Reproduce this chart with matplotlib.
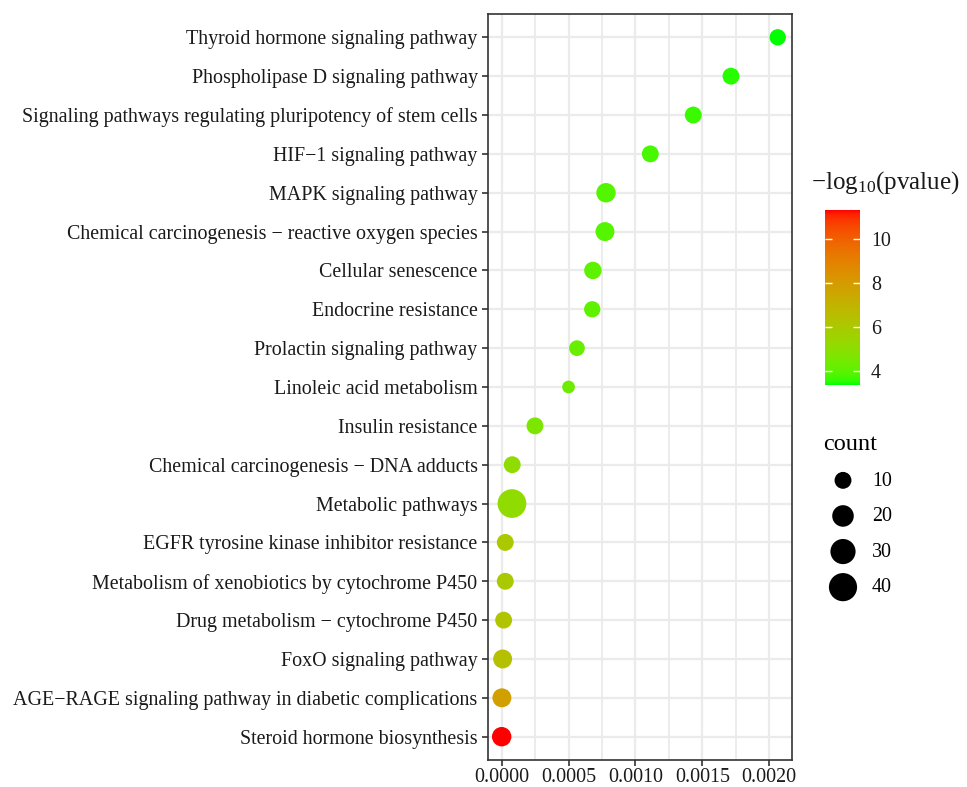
import numpy as np
import matplotlib
matplotlib.use("Agg")
import matplotlib.pyplot as plt
from matplotlib.colors import LinearSegmentedColormap, Normalize
from matplotlib.ticker import MultipleLocator

plt.rcParams['font.family'] = ['Liberation Serif', 'DejaVu Serif']
plt.rcParams['mathtext.fontset'] = 'custom'
plt.rcParams['mathtext.rm'] = 'Liberation Serif'

# pathways, listed top to bottom
pathways = [
    "Thyroid hormone signaling pathway",
    "Phospholipase D signaling pathway",
    "Signaling pathways regulating pluripotency of stem cells",
    "HIF\u22121 signaling pathway",
    "MAPK signaling pathway",
    "Chemical carcinogenesis \u2212 reactive oxygen species",
    "Cellular senescence",
    "Endocrine resistance",
    "Prolactin signaling pathway",
    "Linoleic acid metabolism",
    "Insulin resistance",
    "Chemical carcinogenesis \u2212 DNA adducts",
    "Metabolic pathways",
    "EGFR tyrosine kinase inhibitor resistance",
    "Metabolism of xenobiotics by cytochrome P450",
    "Drug metabolism \u2212 cytochrome P450",
    "FoxO signaling pathway",
    "AGE\u2212RAGE signaling pathway in diabetic complications",
    "Steroid hormone biosynthesis",
]
pvalue = [0.002063, 0.001714, 0.001432, 0.001111, 0.000780, 0.000772, 0.000682,
          0.000677, 0.000563, 0.000500, 0.000249, 0.000079, 0.000077, 0.000027,
          0.000027, 0.000015, 0.0000075, 0.000002, 0.0000002]
neglog = [3.35, 3.5, 3.6, 3.75, 3.9, 3.9, 4.05, 4.05, 4.2, 4.3, 4.6, 5.1, 5.1,
          6.0, 6.0, 6.2, 6.4, 7.8, 11.3]
count = [9, 10, 10, 10, 15, 14, 11, 9, 8, 4, 10, 10, 42, 10, 10, 10, 14, 14, 15]

size_breaks = [10, 20, 30, 40]
cbar_ticks = [4, 6, 8, 10]


# green -> red gradient interpolated in CIE Lab like ggplot
def srgb_to_lab(rgb):
    c = np.asarray(rgb, float)
    c = np.where(c > 0.04045, ((c + 0.055) / 1.055) ** 2.4, c / 12.92)
    M = np.array([[0.4124, 0.3576, 0.1805],
                  [0.2126, 0.7152, 0.0722],
                  [0.0193, 0.1192, 0.9505]])
    xyz = M @ c / np.array([0.95047, 1.0, 1.08883])
    f = np.where(xyz > 0.008856, np.cbrt(xyz), 7.787 * xyz + 16 / 116)
    return np.array([116 * f[1] - 16, 500 * (f[0] - f[1]), 200 * (f[1] - f[2])])


def lab_to_srgb(lab):
    L, a, b = lab
    fy = (L + 16) / 116
    fx = fy + a / 500
    fz = fy - b / 200
    f = np.array([fx, fy, fz])
    xyz = np.where(f ** 3 > 0.008856, f ** 3, (f - 16 / 116) / 7.787)
    xyz = xyz * np.array([0.95047, 1.0, 1.08883])
    Minv = np.array([[3.2406, -1.5372, -0.4986],
                     [-0.9689, 1.8758, 0.0415],
                     [0.0557, -0.2040, 1.0570]])
    c = Minv @ xyz
    c = np.where(c > 0.0031308, 1.055 * np.clip(c, 0, None) ** (1 / 2.4) - 0.055, 12.92 * c)
    return np.clip(c, 0, 1)


lab_lo = srgb_to_lab([0, 1, 0])
lab_hi = srgb_to_lab([1, 0, 0])
steps = np.linspace(0, 1, 64)
cmap = LinearSegmentedColormap.from_list(
    "gr", [lab_to_srgb(lab_lo + t * (lab_hi - lab_lo)) for t in steps])
norm = Normalize(vmin=min(neglog), vmax=max(neglog))


def diam_pt(n):
    # diameter grows linearly with sqrt(count), px -> pt at 100 dpi
    return (5.6 + 3.57 * np.sqrt(np.asarray(n, float))) * 0.72


fig = plt.figure(figsize=(9.67, 7.87), dpi=100)
ax = fig.add_axes([488 / 967, 1 - 760 / 787, 304 / 967, 746 / 787])

ypos = np.arange(len(pathways))[::-1]
ax.scatter(pvalue, ypos, s=diam_pt(count) ** 2, c=neglog, cmap=cmap, norm=norm,
           edgecolors='none', zorder=3)

ax.set_yticks(ypos)
ax.set_yticklabels(pathways, fontsize=14.4, color='#1a1a1a')
ax.set_ylim(-0.6, len(pathways) - 0.4)
xt = [0.0, 0.0005, 0.0010, 0.0015, 0.0020]
ax.set_xticks(xt)
ax.set_xticklabels([f"{v:.4f}" for v in xt], fontsize=14.4, color='#1a1a1a')
ax.xaxis.set_minor_locator(MultipleLocator(0.00025))
ax.set_xlim(-0.000102, 0.00217)

ax.grid(True, which='major', color='#EBEBEB', linewidth=1.6, zorder=0)
ax.grid(True, which='minor', axis='x', color='#EBEBEB', linewidth=1.3, zorder=0)
ax.set_axisbelow(True)
ax.tick_params(which='major', length=4.5, width=1.2, color='#333333', pad=3)
ax.tick_params(axis='x', which='major', pad=1)
ax.tick_params(which='minor', length=0)
for sp in ax.spines.values():
    sp.set_color('#333333')
    sp.set_linewidth(1.2)

# colour bar
cax = fig.add_axes([825 / 967, 1 - 385 / 787, 35 / 967, 175 / 787])
sm = plt.cm.ScalarMappable(cmap=cmap, norm=norm)
cb = fig.colorbar(sm, cax=cax, ticks=cbar_ticks)
cb.outline.set_visible(False)
cax.tick_params(direction='in', color='white', length=5, width=1.0,
                left=True, right=True, labelsize=14.4, labelcolor='#1a1a1a', pad=8)
fig.text(811 / 967, 1 - 183 / 787, r"$\mathrm{-log_{10}}$(pvalue)", fontsize=18,
         ha='left', va='center', color='#1a1a1a')

# size legend
handles = [ax.scatter([], [], s=diam_pt(v) ** 2, color='black', edgecolors='none')
           for v in size_breaks]
leg = fig.legend(handles, [str(v) for v in size_breaks], title="count",
                 loc='upper left', bbox_to_anchor=(809 / 967, 1 - 420 / 787),
                 frameon=False, fontsize=14.4, title_fontsize=17.5,
                 labelspacing=0.83, handletextpad=0.45, borderpad=0.2)
leg._legend_box.align = "left"

fig.savefig("out.png", dpi=100)
